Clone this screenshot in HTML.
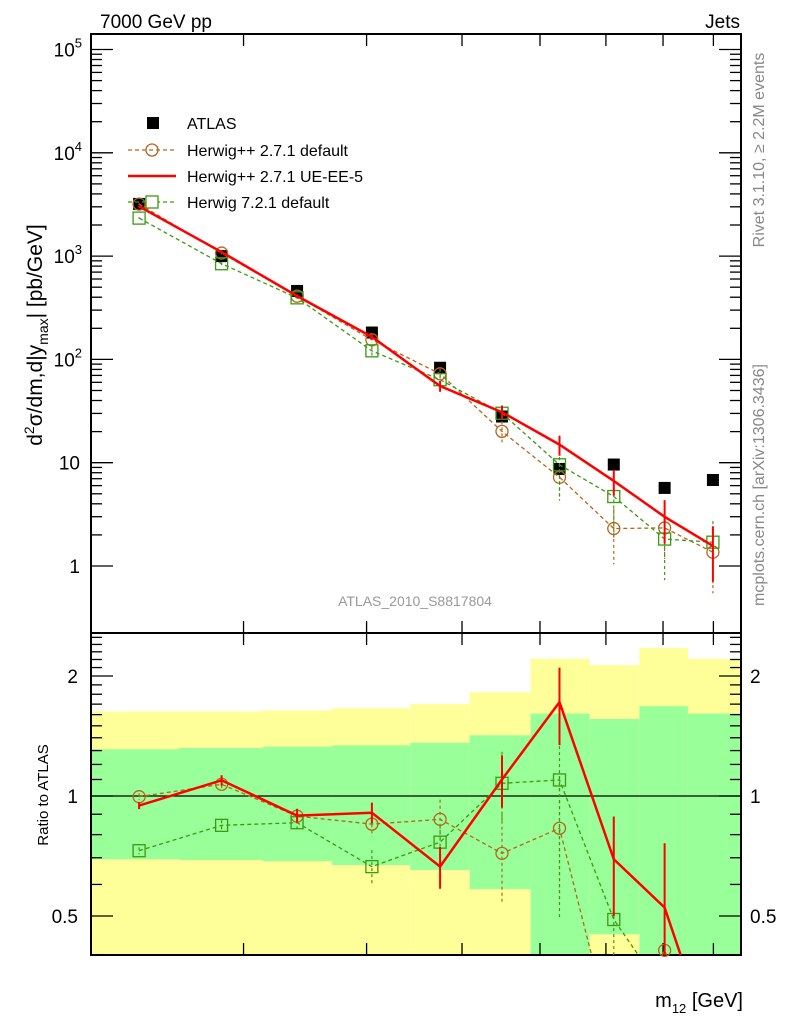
<!DOCTYPE html>
<html><head><meta charset="utf-8"><style>
html,body{margin:0;padding:0;background:#fff;width:786px;height:1024px;overflow:hidden;}
svg{display:block;font-family:"Liberation Sans",sans-serif;}
</style></head><body>
<svg id="chart" width="786" height="1024" viewBox="0 0 786 1024" xmlns="http://www.w3.org/2000/svg">
<g id="bands"></g>
<g id="axes"></g>
<g id="series"></g>
<g id="labels">
<text x="100" y="28" font-size="19">7000 GeV pp</text>
<text x="740" y="28" font-size="19" text-anchor="end">Jets</text>
<text transform="translate(42,335) rotate(-90)" font-size="21" text-anchor="middle">d<tspan dy="-8" font-size="14">2</tspan><tspan dy="8">σ/dm,d|y</tspan><tspan dy="6" font-size="14">max</tspan><tspan dy="-6">| [pb/GeV]</tspan></text>
<text transform="translate(764,150) rotate(-90)" font-size="16" fill="#888" text-anchor="middle">Rivet 3.1.10, ≥ 2.2M events</text>
<text transform="translate(764,485) rotate(-90)" font-size="16" fill="#888" text-anchor="middle">mcplots.cern.ch [arXiv:1306.3436]</text>
<text x="415" y="606" font-size="14" fill="#999" text-anchor="middle">ATLAS_2010_S8817804</text>
<text transform="translate(48,795) rotate(-90)" font-size="15" text-anchor="middle">Ratio to ATLAS</text>
<text x="743" y="1007" font-size="20" text-anchor="end">m<tspan dy="6" font-size="13">12</tspan><tspan dy="-6"> [GeV]</tspan></text>
</g>
<g id="legend">
<rect x="147" y="117" width="12" height="12" fill="#000"/>
<text x="187" y="129" font-size="16">ATLAS</text>
<line x1="128" y1="150" x2="176" y2="150" stroke="#b5651d" stroke-width="1.3" stroke-dasharray="4,3"/>
<circle cx="152" cy="150" r="6" fill="none" stroke="#b5651d" stroke-width="1.3"/>
<text x="187" y="156" font-size="16">Herwig++ 2.7.1 default</text>
<line x1="128" y1="176" x2="176" y2="176" stroke="#f00" stroke-width="2.5"/>
<text x="187" y="182" font-size="16">Herwig++ 2.7.1 UE-EE-5</text>
<line x1="128" y1="202" x2="176" y2="202" stroke="#3a9a10" stroke-width="1.3" stroke-dasharray="4,3"/>
<rect x="146" y="196" width="12" height="12" fill="#fff" stroke="#3a9a10" stroke-width="1.3"/>
<text x="187" y="208" font-size="16">Herwig 7.2.1 default</text>
</g>
</svg>
<script>
const massCenters=[235,285,340,405,475,549,628,713,803,899];
const binEdges=[210,258,314,369,443,509,587,674,757,848,960];
const atlasValues=[3200,1000,460,182,83,28,8.7,9.6,5.7,6.8];
const bandYellowHigh=[1.63,1.63,1.64,1.66,1.70,1.82,2.21,2.13,2.35,2.21];
const bandGreenHigh=[1.31,1.32,1.33,1.34,1.36,1.42,1.61,1.56,1.68,1.61];
const bandGreenLow=[0.694,0.691,0.686,0.671,0.652,0.584,0.40,0.45,0.40,0.40];
const bandYellowLow=[0.39,0.39,0.39,0.39,0.39,0.39,0.39,0.39,0.39,0.39];
const ratioHppDefault=[0.996,1.07,0.89,0.85,0.874,0.718,0.83,0.24,0.41,0.2];
const errHppDefault=[0.02,0.03,0.04,0.07,0.12,0.25,0.35,0.55,0.5,0.6];
const ratioHppUE=[0.946,1.095,0.893,0.908,0.665,1.10,1.72,0.694,0.525,0.23];
const errHppUE=[0.02,0.03,0.04,0.06,0.12,0.15,0.22,0.28,0.45,0.55];
const ratioH7=[0.729,0.844,0.857,0.665,0.766,1.076,1.097,0.49,0.32,0.25];
const errH7=[0.02,0.03,0.05,0.10,0.10,0.20,0.55,0.6,0.6,0.6];
const mainTickExp=[0,1,2,3,4,5];
const ratioTickLabels=[0.5,1,2];
const xTicks=[300,400,500,600,700,800,900];

const NS='http://www.w3.org/2000/svg';
const L=91,R=741,T=34,MB=633,RB=955;
const X0=Math.log10(210),X1=Math.log10(960);
const xs=v=>L+(Math.log10(v)-X0)/(X1-X0)*(R-L);
const yMain=v=>49.5+(5-Math.log10(v))*103.3;
const yRat=v=>796-Math.log2(v)*120;
function mk(parent,tag,attrs){const e=document.createElementNS(NS,tag);for(const k in attrs)e.setAttribute(k,attrs[k]);document.getElementById(parent).appendChild(e);return e;}
const clampY=(y,lo,hi)=>Math.max(lo,Math.min(hi,y));

for(let i=0;i<massCenters.length;i++){
 const x1=xs(binEdges[i]),x2=xs(binEdges[i+1]);
 const yt=yRat(bandYellowHigh[i]), yb=Math.min(RB,yRat(bandYellowLow[i]));
 const y=mk('bands','rect',{x:x1,y:yt,width:x2-x1,height:yb-yt,fill:'#ffff99'});
 
 
 const gt=yRat(bandGreenHigh[i]), gb=Math.min(RB,yRat(bandGreenLow[i]));
 const g=mk('bands','rect',{x:x1,y:gt,width:x2-x1,height:gb-gt,fill:'#99ff99'});
 
 
}
const mf=mk('axes','rect',{x:L,y:T,width:R-L,height:MB-T,fill:'none',stroke:'#000','stroke-width':2});


const rf=mk('axes','rect',{x:L,y:MB,width:R-L,height:RB-MB,fill:'none',stroke:'#000','stroke-width':2});


const ul=mk('axes','line',{x1:L,x2:R,y1:yRat(1),y2:yRat(1),stroke:'#000','stroke-width':1.2});


for(const e of mainTickExp){
 for(let m=1;m<10;m++){
  const v=Math.pow(10,e)*m, y=yMain(v);
  if(y<T||y>MB)continue;
  const len=m==1?22:11;
  mk('axes','line',{x1:L,x2:L+len,y1:y,y2:y,stroke:'#000','stroke-width':1.3});
  mk('axes','line',{x1:R,x2:R-len,y1:y,y2:y,stroke:'#000','stroke-width':1.3});
 }
 const t=mk('axes','text',{x:e<=1?80:82,y:yMain(Math.pow(10,e))+7,'font-size':19,'text-anchor':'end'});
 
 
 if(e==0)t.textContent='1';else if(e==1)t.textContent='10';else t.innerHTML='10<tspan dy="-9" font-size="13">'+e+'</tspan>';
}
for(let v=0.4;v<=2.55;v+=0.1){
 const major=ratioTickLabels.some(r=>Math.abs(r-v)<1e-6);
 const y=yRat(v);if(y<MB||y>RB)continue;
 const len=major?22:11;
 mk('axes','line',{x1:L,x2:L+len,y1:y,y2:y,stroke:'#000','stroke-width':1.3});
 mk('axes','line',{x1:R,x2:R-len,y1:y,y2:y,stroke:'#000','stroke-width':1.3});
}
for(const r of ratioTickLabels){
 const a=mk('axes','text',{x:78,y:yRat(r)+7,'font-size':19,'text-anchor':'end'});a.textContent=String(r);
 
 
 const b=mk('axes','text',{x:750,y:yRat(r)+7,'font-size':19});b.textContent=String(r);
 
 
}
for(const v of xTicks){const x=xs(v);
 for(const [y1,d] of [[T,1],[MB,-1],[MB,1],[RB,-1]]) mk('axes','line',{x1:x,x2:x,y1:y1,y2:y1+d*12,stroke:'#000','stroke-width':1.3});
}
function clipSegments(pts,lo,hi){
 // returns array of polylines, clipped to y in [lo,hi]
 const out=[];let cur=[];
 for(let i=0;i<pts.length-1;i++){
  let [x1,y1]=pts[i],[x2,y2]=pts[i+1];
  const in1=y1>=lo&&y1<=hi,in2=y2>=lo&&y2<=hi;
  const cut=(yc)=>[x1+(x2-x1)*(yc-y1)/(y2-y1),yc];
  if(in1&&in2){if(!cur.length)cur.push([x1,y1]);cur.push([x2,y2]);}
  else if(in1&&!in2){if(!cur.length)cur.push([x1,y1]);cur.push(cut(y2>hi?hi:lo));out.push(cur);cur=[];}
  else if(!in1&&in2){cur=[cut(y1>hi?hi:lo),[x2,y2]];}
 }
 if(cur.length)out.push(cur);
 return out;
}
function drawSeries(ratios,errs,color,dash,marker,name){
 for(const panel of ['main','ratio']){
  const lo=panel=='main'?T:MB, hi=panel=='main'?MB:RB;
  const g=mk('series','g',{});
  
  
  const fy=(i,f)=>panel=='main'?yMain(atlasValues[i]*ratios[i]*f):yRat(ratios[i]*f);
  const pts=massCenters.map((m,i)=>[xs(m),fy(i,1)]);
  for(const seg of clipSegments(pts,lo,hi)){
   const pl=document.createElementNS(NS,'polyline');
   pl.setAttribute('points',seg.map(p=>p[0]+','+p[1]).join(' '));pl.setAttribute('fill','none');pl.setAttribute('stroke',color);
   pl.setAttribute('stroke-width',dash?1.3:2.5);if(dash)pl.setAttribute('stroke-dasharray','4,3');
   g.appendChild(pl);
  }
  massCenters.forEach((m,i)=>{
   const x=xs(m), yc=fy(i,1);
   const ya=clampY(fy(i,1+errs[i]),lo,hi), yb=clampY(fy(i,Math.max(0.05,1-errs[i])),lo,hi);
   if(ya<yb){
    const eb=document.createElementNS(NS,'line');
    eb.setAttribute('x1',x);eb.setAttribute('x2',x);eb.setAttribute('y1',ya);eb.setAttribute('y2',yb);
    eb.setAttribute('stroke',color);eb.setAttribute('stroke-width',dash?1.2:2);if(dash)eb.setAttribute('stroke-dasharray','3,3');
    g.appendChild(eb);
   }
   if(yc<lo||yc>hi-3)return;
   let mkr;
   if(marker=='circle'){mkr=document.createElementNS(NS,'circle');mkr.setAttribute('cx',x);mkr.setAttribute('cy',yc);mkr.setAttribute('r',6);}
   else if(marker=='square'){mkr=document.createElementNS(NS,'rect');mkr.setAttribute('x',x-6);mkr.setAttribute('y',yc-6);mkr.setAttribute('width',12);mkr.setAttribute('height',12);}
   if(mkr){mkr.setAttribute('fill','none');mkr.setAttribute('stroke',color);mkr.setAttribute('stroke-width',1.3);
    
    
    g.appendChild(mkr);}
  });
 }
}
massCenters.forEach((m,i)=>{
 const r=mk('series','rect',{x:xs(m)-6,y:yMain(atlasValues[i])-6,width:12,height:12,fill:'#000'});
 
 
});
drawSeries(ratioHppDefault,errHppDefault,'#b5651d',true,'circle','herwigpp-default');
drawSeries(ratioH7,errH7,'#3a9a10',true,'square','herwig7-default');
drawSeries(ratioHppUE,errHppUE,'#ff0000',false,null,'herwigpp-ueee5');
</script>
</body></html>
